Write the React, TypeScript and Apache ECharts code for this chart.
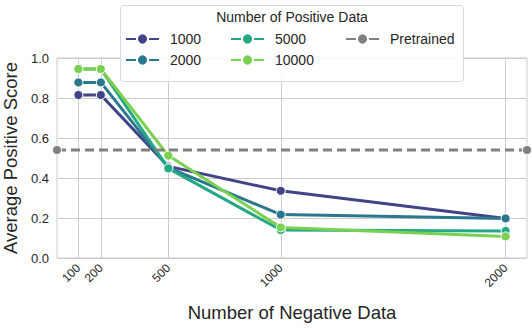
import React, { useEffect, useRef } from "react";
import * as echarts from "echarts";

const negativeCounts = [100, 200, 500, 1000, 2000];
const seriesNames = ["1000", "2000", "5000", "10000"];
const scores1000 = [0.815, 0.815, 0.458, 0.336, 0.198];
const scores2000 = [0.878, 0.878, 0.452, 0.217, 0.198];
const scores5000 = [0.945, 0.945, 0.448, 0.14, 0.135];
const scores10000 = [0.945, 0.945, 0.512, 0.153, 0.108];
const pretrainedScore = 0.54;
const yTicks = [0, 0.2, 0.4, 0.6, 0.8, 1.0];

const colors = ["#414487", "#2a788e", "#22a884", "#7ad151"];
const FONT = "'Liberation Sans', Arial, sans-serif";
const TXT = "#262626";

export default function App() {
  const ref = useRef<HTMLDivElement>(null);
  useEffect(() => {
    if (!ref.current) return;
    const chart = echarts.init(ref.current, undefined, { renderer: "svg" });
    const allScores = [scores1000, scores2000, scores5000, scores10000];
    const xMin = 5;
    const xMax = 2095;
    const lineSeries = allScores.map((vals, i) => ({
      name: seriesNames[i],
      type: "line",
      data: negativeCounts.map((x, j) => [x, vals[j]]),
      symbol: "circle",
      symbolSize: 9,
      showSymbol: true,
      lineStyle: { width: 3, color: colors[i] },
      itemStyle: { color: colors[i], borderColor: "#ffffff", borderWidth: 1 },
      z: 3 + i,
    }));
    const legendCommon = {
      orient: "vertical",
      top: 32,
      padding: 0,
      itemWidth: 33,
      itemHeight: 14,
      itemGap: 7,
      textStyle: { fontFamily: FONT, fontSize: 14, color: TXT, padding: [0, 0, 0, 6] },
      z: 20,
    };
    chart.setOption({
      animation: false,
      backgroundColor: "#ffffff",
      textStyle: { fontFamily: FONT },
      grid: {
        left: 57,
        right: 5,
        top: 58,
        bottom: 70,
        show: true,
        borderColor: "#cccccc",
        borderWidth: 1,
        containLabel: false,
        outerBoundsMode: "none",
      },
      xAxis: {
        type: "value",
        min: xMin,
        max: xMax,
        name: "Number of Negative Data",
        nameLocation: "middle",
        nameGap: 45,
        nameTextStyle: { fontFamily: FONT, fontSize: 18.5, color: TXT },
        axisLine: { show: false },
        axisTick: { show: false, customValues: negativeCounts },
        axisLabel: {
          customValues: negativeCounts,
          rotate: 45,
          fontFamily: FONT,
          fontSize: 12,
          color: TXT,
          margin: 8,
          formatter: (v: number) => String(v),
        },
        splitLine: { show: true, lineStyle: { color: "#cccccc", width: 1 } },
      },
      yAxis: {
        type: "value",
        min: 0,
        max: 1,
        interval: 0.2,
        name: "Average Positive Score",
        nameLocation: "middle",
        nameGap: 33,
        nameTextStyle: { fontFamily: FONT, fontSize: 18.5, color: TXT },
        axisLine: { show: false },
        axisTick: { show: false },
        axisLabel: {
          fontFamily: FONT,
          fontSize: 13,
          color: TXT,
          margin: 8,
          formatter: (v: number) => (yTicks.some((t) => Math.abs(t - v) < 1e-9) ? v.toFixed(1) : ""),
        },
        splitLine: { show: true, lineStyle: { color: "#cccccc", width: 1 } },
      },
      legend: [
        { ...legendCommon, left: 125, data: ["1000", "2000"] },
        { ...legendCommon, left: 230, data: ["5000", "10000"] },
        {
          ...legendCommon,
          left: 345,
          lineStyle: { type: "solid" },
          data: [{ name: "Pretrained", lineStyle: { type: "solid" } }],
        },
      ],
      graphic: [
        {
          type: "rect",
          shape: { x: 120.5, y: 5.5, width: 343, height: 76, r: 3 },
          style: { fill: "rgba(255,255,255,0.85)", stroke: "#d9d9d9", lineWidth: 1 },
          z: 10,
        },
        {
          type: "text",
          x: 292,
          y: 17,
          style: {
            text: "Number of Positive Data",
            fontFamily: FONT,
            fontSize: 14,
            fill: TXT,
            align: "center",
            verticalAlign: "middle",
          },
          z: 11,
        },
      ],
      series: [
        ...lineSeries,
        {
          name: "Pretrained",
          type: "line",
          data: [
            [xMin, pretrainedScore],
            [xMax, pretrainedScore],
          ],
          symbol: "circle",
          symbolSize: 9,
          lineStyle: { width: 3, color: "#808080", type: [9, 5] },
          itemStyle: { color: "#808080", borderColor: "#ffffff", borderWidth: 1 },
          z: 8,
        },
      ],
    });
    return () => chart.dispose();
  }, []);
  return <div ref={ref} style={{ width: 532, height: 328, position: "absolute", left: 0, top: 0 }} />;
}
